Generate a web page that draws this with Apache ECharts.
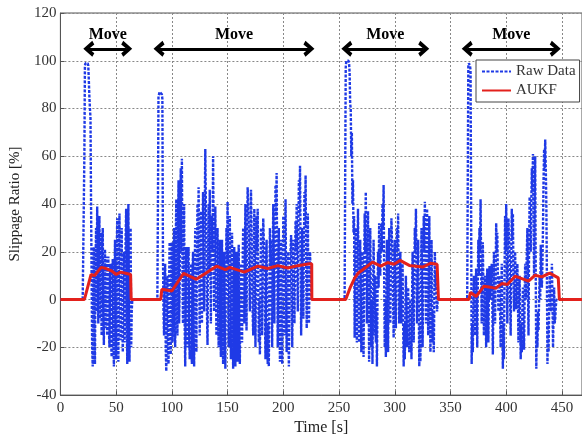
<!DOCTYPE html>
<html>
<head>
<meta charset="utf-8">
<script src="https://cdn.jsdelivr.net/npm/echarts@6/dist/echarts.min.js"></script>
<style>html,body{margin:0;padding:0;background:#fff}#c{width:582px;height:441px}</style>
</head>
<body>
<div id="c"></div>
<script>
// ---- data ----
const xTicks = [0, 50, 100, 150, 200, 250, 300, 350, 400, 450];
const yTicks = [-40, -20, 0, 20, 40, 60, 80, 100, 120];

// Raw data, one value every 0.5 s inside each "move" burst (start time + values); 0 elsewhere
const rawStep = 0.5;
const rawSeg1Start = 20;
const rawSeg1 = [
  0,0,0,60,98,99,99,99,99,99,
  98,92,85,80,76,40,10,-20,-28,5,
  22,-10,-27,15,30,-5,39,20,-10,25,
  35,-8,28,5,-15,22,30,-5,-19,12,
  21,-12,10,18,-15,8,18,-12,-20,10,
  15,-18,-24,12,17,-15,-28,5,25,-10,
  -25,20,34,-12,-26,15,36,5,-17,18,
  30,-10,-22,8,20,-18,-10,25,38,-5,
  -27,15,40,-8,-26,12,30,-20,-5,0,
  0];
const rawSeg2Start = 87;
const rawSeg2 = [
  0,40,85,86,87,87,87,87,86,84,
  20,-5,-15,8,15,-20,-30,-5,10,-15,
  -27,5,24,-5,-23,10,24,-18,-10,18,
  30,-12,-20,25,42,0,-15,30,50,-10,
  5,35,55,20,59,15,-10,25,40,-10,
  -28,10,22,-15,-20,18,22,-12,-25,5,
  15,-20,-27,10,20,-15,-28,12,30,0,
  -22,20,40,10,47,15,-15,20,37,0,
  -10,25,45,10,-5,35,63,40,20,-5,
  -19,15,40,10,46,20,-10,15,35,20,
  60,25,-5,15,39,10,-15,18,30,-5,
  -20,10,25,-10,-24,8,25,-12,-27,5,
  20,-15,-29,10,30,15,41,5,-20,12,
  35,0,-25,10,28,-10,-29,5,22,-12,
  -28,8,20,-10,-26,8,23,-15,-27,0,
  15,-5,-18,12,30,5,-10,20,40,10,
  -13,25,47,40,30,10,-5,25,46,30,
  10,-5,-15,15,38,10,-20,10,35,20,
  38,5,-18,0,-23,5,30,8,-15,15,
  34,25,20,-5,-25,5,25,-5,-27,-10,
  -28,5,30,15,25,0,-20,15,40,10,
  -10,25,48,35,53,15,-20,10,30,-5,
  -26,5,25,-8,-27,10,35,8,-15,20,
  42,5,-22,0,20,-10,-28,-5,15,20,
  27,0,-20,5,25,5,-10,15,33,20,
  40,10,-5,30,50,35,56,20,-15,10,
  30,5,-8,25,45,30,52,15,-12,10,
  36,5,-10,8,20,10,5,0,0];
const rawSeg3Start = 255;
const rawSeg3 = [
  0,50,97,100,100,100,100,100,99,95,
  82,80,60,70,40,50,28,35,-16,10,
  30,5,-18,15,38,10,-18,5,25,0,
  -22,-5,20,5,-24,10,36,20,45,15,
  -10,20,37,5,-26,10,30,5,-20,0,
  -27,0,25,5,-15,10,-18,-5,-28,0,
  20,5,32,15,10,25,32,20,40,30,
  48,10,-20,0,-24,5,25,0,-22,5,
  30,10,-10,15,34,25,20,0,-16,5,
  25,5,-12,10,30,20,36,10,-10,5,
  20,0,-10,5,15,-10,-28,-10,-25,-5,
  10,-5,-20,-5,5,-10,-22,-8,0,-10,
  -25,0,20,0,-18,10,30,20,38,15,
  -10,10,25,0,-28,-10,-26,5,30,5,
  -20,10,35,20,41,15,-10,15,38,10,
  -15,10,35,5,-22,0,25,0,-18,-5,
  -22,0,20,5,12,0,-5,0,0];
const rawSeg4Start = 365;
const rawSeg4 = [
  0,50,98,99,99,98,96,40,-27,-10,
  -22,-5,10,-5,-15,0,13,0,-20,5,
  25,10,30,20,42,15,-10,10,24,5,
  -15,0,10,-5,-20,0,13,0,-18,5,
  14,0,5,10,15,0,-23,0,20,5,
  -10,10,32,20,28,10,-5,10,7,-5,
  -20,0,15,-10,-29,-10,-25,10,35,20,
  40,15,-10,15,34,25,20,0,-15,15,
  38,25,36,10,-5,5,20,5,-4,5,
  15,0,-18,0,10,-10,-25,-10,-22,-5,
  5,-10,-21,0,15,0,10,20,30,5,
  -15,20,43,30,20,40,55,45,61,35,
  10,40,60,10,-29,-10,-20,-5,-13,0,
  10,0,23,10,5,15,30,50,63,55,
  67,55,40,10,-27,-10,-22,-5,10,0,
  -5,5,15,0,-20,-5,5,-10,-8,-3,
  0,0,0];

// AUKF estimate: [time, ratio]
const aukf = [[0,0],[21.5,0],[27.5,10.5],[30.5,10],[36.5,13.5],[41,13],[46,12],[50,10.5],[54,11.5],[58.5,11],[63,10.5],[63.5,0],
  [90,0],[91,4.3],[100,3.6],[110.5,11],[122,8.5],[140,14],[148,12.5],[152,13.5],[165,11.5],[177,14],[186,13],[195,14.2],[204,13.2],[213,14.2],[223.5,15],[225.5,15],[225.6,0],
  [256,0],[260,5],[264,9],[267,11],[271,12.4],[280,15.7],[287.5,14],[293.5,15.5],[299.4,14.8],[304.8,16.4],[313,14.3],[319,14],[325,13.6],[332,15.2],[338,14.8],[339,14.8],[339.2,0],
  [366.5,0],[368,3],[373,1.3],[380,5.6],[386,5.2],[390.5,4.7],[396,6.7],[401,6.3],[408,9.8],[420,7.7],[426,10.2],[432,9.5],[439,11.1],[446.7,9.1],[447.5,9],[447.7,0],[470,0]];

// "Move" intervals [start, end] and annotation level
const moveSpans = [[25.5, 59.5], [88.5, 223], [257, 326], [365, 444]];
const moveLevel = 105;

// ---- build ----
function seg(start, vals) { return vals.map((v, i) => [start + i * rawStep, v]); }
const raw = [[0,0]].concat(seg(rawSeg1Start, rawSeg1), seg(rawSeg2Start, rawSeg2), seg(rawSeg3Start, rawSeg3), seg(rawSeg4Start, rawSeg4), [[470,0]]);

const chevron = 'path://M0,11 L10,0 L20,11 L15.5,13.5 L10,7 L4.5,13.5 Z';
const FONT = 'Liberation Serif';

const chart = echarts.init(document.getElementById('c'), null, {renderer: 'canvas'});
chart.setOption({
  animation: false,
  backgroundColor: '#fff',
  grid: {left: 58.5, right: 0, top: 13, bottom: 41, show: true, borderColor: '#555', borderWidth: 1, backgroundColor: 'transparent'},
  legend: {
    orient: 'vertical', left: 476, top: 60, padding: [4, 4, 4, 5], itemGap: 4,
    itemWidth: 29, itemHeight: 14, backgroundColor: '#fff', borderColor: '#444', borderWidth: 1, borderRadius: 0,
    itemStyle: {opacity: 0},
    textStyle: {fontFamily: FONT, fontSize: 15, color: '#333'},
    data: ['Raw Data', 'AUKF']
  },
  xAxis: {
    type: 'value', min: 0, max: 468, interval: 50,
    name: 'Time [s]', nameLocation: 'middle', nameGap: 19,
    nameTextStyle: {fontFamily: FONT, fontSize: 16, color: '#222'},
    axisLine: {show: true, onZero: false, lineStyle: {color: '#555'}},
    axisTick: {show: true, inside: true, length: 4, lineStyle: {color: '#555'}},
    axisLabel: {fontFamily: FONT, fontSize: 15, color: '#333', margin: 5, showMaxLabel: false},
    splitLine: {show: true, lineStyle: {color: '#888', type: [2, 2], width: 1}}
  },
  yAxis: {
    type: 'value', min: -40, max: 120, interval: 20,
    name: 'Slippage Ratio [%]', nameLocation: 'middle', nameGap: 31, nameRotate: 90,
    nameTextStyle: {fontFamily: FONT, fontSize: 15, color: '#222'},
    axisLine: {show: true, lineStyle: {color: '#555'}},
    axisTick: {show: true, inside: true, length: 4, lineStyle: {color: '#555'}},
    axisLabel: {fontFamily: FONT, fontSize: 15, color: '#333', margin: 4},
    splitLine: {show: true, lineStyle: {color: '#888', type: [2, 2], width: 1}}
  },
  series: [
    {
      name: 'Raw Data', type: 'line', data: raw, symbol: 'none', showSymbol: false,
      lineStyle: {color: '#1f3ae6', width: 2.4, type: [3, 1.5]}, itemStyle: {color: '#1f3ae6'},
      z: 2,
      markLine: {
        silent: true, symbol: [chevron, chevron], symbolSize: [16, 11],
        lineStyle: {color: '#000', width: 3, type: 'solid'},
        label: {show: true, position: 'insideMiddleTop', distance: 6, formatter: 'Move',
          fontFamily: FONT, fontSize: 16, fontWeight: 'bold', color: '#000'},
        emphasis: {disabled: true},
        data: moveSpans.map(s => [{coord: [s[0], moveLevel]}, {coord: [s[1], moveLevel]}])
      }
    },
    {
      name: 'AUKF', type: 'line', data: aukf, symbol: 'none', showSymbol: false,
      lineStyle: {color: '#e3211c', width: 3}, itemStyle: {color: '#e3211c'}, z: 3
    }
  ]
});
</script>
</body>
</html>
